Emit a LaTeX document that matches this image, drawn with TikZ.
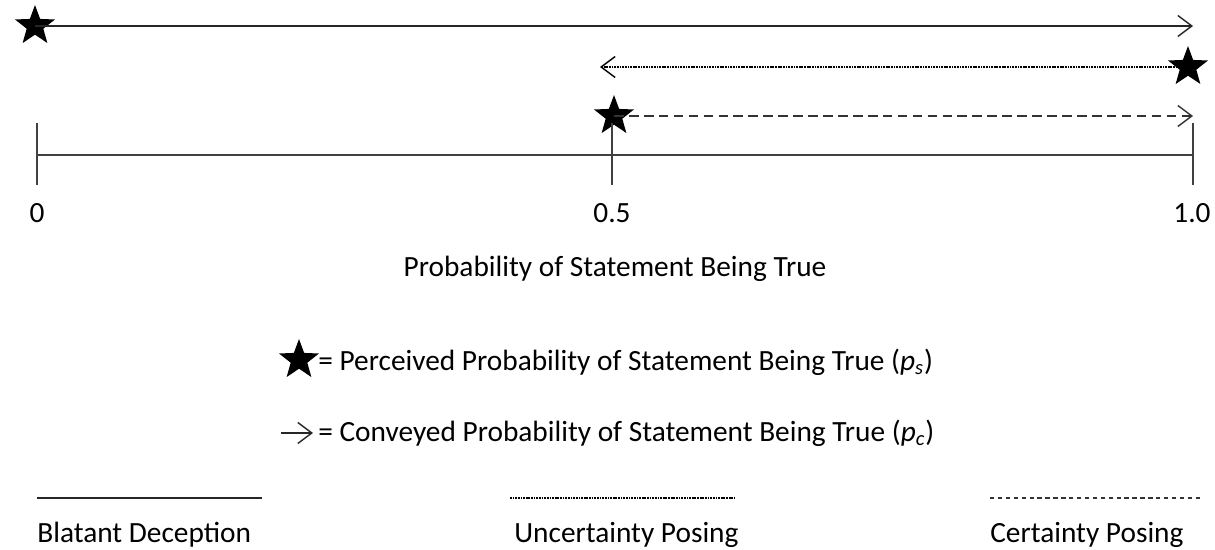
\documentclass[tikz,border=0pt]{standalone}
\usepackage{fontspec}
\setmainfont{Carlito}
\usetikzlibrary{positioning, arrows.meta, shapes.geometric}
\tikzset{
  % --- nodes ---
  pstar/.style   = {star, star points=5, star point ratio=2.4, fill=black,
                    draw=none, minimum size=0.84cm, inner sep=0pt},
  lbl/.style     = {font=\fontsize{16.7}{19}\selectfont, inner sep=0pt},
  % --- lines ---
  conv/.style    = {-{Straight Barb[length=0.28cm, width=0.42cm, line width=0.8pt]},
                    line width=0.9pt, black!85},
  blatant/.style = {line width=0.9pt, black!85},
  uncert/.style  = {line width=0.8pt, black, dash pattern=on 1pt off 0.5pt},
  certain/.style = {line width=0.9pt, black!80, dash pattern=on 5.5pt off 3pt},
  legdash/.style = {line width=0.8pt, black!80, dash pattern=on 2.5pt off 2pt},
  axis/.style    = {line width=1.1pt, black!75},
}

\begin{document}
\begin{tikzpicture}[x=0.02cm, y=-0.02cm]
  \useasboundingbox (0,0) rectangle (1215,550);

  % --- the three cases ---
  \node[pstar] (s0)  at (35,26)    {};
  \coordinate  (a0)  at (1193,26);
  \draw[conv, blatant] (s0.center) -- (a0);

  \node[pstar] (s1)  at (1188,67)  {};
  \coordinate  (a1)  at (600,67);
  \draw[conv, uncert] (s1.center) -- (a1);

  \node[pstar] (s5)  at (614,116)  {};
  \coordinate  (a5)  at (1193,116);
  \draw[conv, certain] (s5.center) -- (a5);

  % --- probability axis ---
  \coordinate (x0)  at (37,155);
  \coordinate (x5)  at (612,155);
  \coordinate (x10) at (1193,155);
  \draw[axis] (x0) -- (x10);
  \foreach \t in {x0, x5, x10}
    \draw[axis] ([yshift=0.64cm]\t) -- ([yshift=-0.6cm]\t);

  \node[lbl] (l0)  at (37,213)   {0};
  \node[lbl] (l5)  at (612,213)  {0.5};
  \node[lbl] (l10) at (1192,213) {1.0};
  \node[lbl] (title) at (615,269) {Probability of Statement Being True};

  % --- key ---
  \node[pstar] (ks) at (299,360) {};
  \node[lbl, anchor=west] (kstext) at (318,362)
    {= Perceived Probability of Statement Being True (\textit{p\textsubscript{s}})};
  \coordinate (ka) at (281,433);
  \coordinate (kb) at (313,433);
  \draw[conv, blatant] (ka) -- (kb);
  \node[lbl, anchor=west] (katext) at (318,433)
    {= Conveyed Probability of Statement Being True (\textit{p\textsubscript{c}})};

  % --- line styles ---
  \coordinate (b1) at (37,498);  \coordinate (b2) at (262,498);
  \coordinate (u1) at (510,498); \coordinate (u2) at (735,498);
  \coordinate (c1) at (990,498); \coordinate (c2) at (1203,498);
  \draw[blatant] (b1) -- (b2);
  \draw[uncert]  (u1) -- (u2);
  \draw[legdash] (c1) -- (c2);
  \node[lbl, anchor=west] (bt) at (37,535)  {Blatant Deception};
  \node[lbl, anchor=west] (ut) at (514,535) {Uncertainty Posing};
  \node[lbl, anchor=west] (ct) at (990,535) {Certainty Posing};

\end{tikzpicture}
\end{document}
